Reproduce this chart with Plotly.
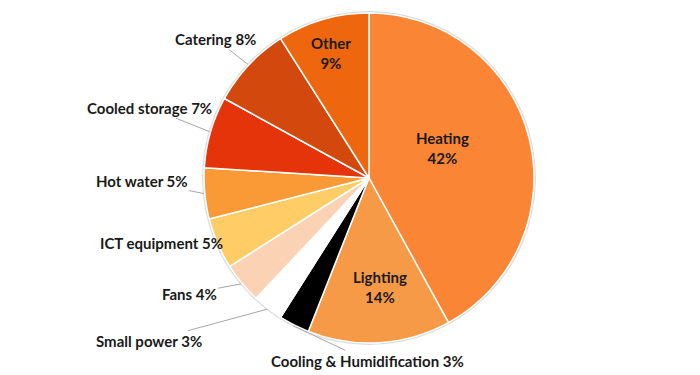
import math
import plotly.graph_objects as go

categories = ["Heating", "Lighting", "Cooling & Humidification", "Small power", "Fans",
              "ICT equipment", "Hot water", "Cooled storage", "Catering", "Other"]
values = [42, 14, 3, 3, 4, 5, 5, 7, 8, 9]
colors = ["#F98535", "#F79A48", "#000000", "#FFFFFF", "#FBD2B4",
          "#FFCC66", "#F99A36", "#E5330A", "#D3480C", "#EE660E"]

W, H = 700, 375
CX, CY, R = 369, 178, 165

inside = {"Heating": (0.5, -6, 9), "Lighting": (0.66, 4, 0), "Other": (0.77, -3, 3)}
# outside: offset of text centre from the slice edge point (px)
outside = {
    "Catering": (-32, -25),
    "Cooled storage": (-60, -24),
    "Hot water": (-62, -13),
    "ICT equipment": (-55, -1),
    "Fans": (-52, 10),
    "Small power": (-118, 32),
    "Cooling & Humidification": (74, 35),
}

fig = go.Figure()
# soft grey rim behind the pie
pad = 2
fig.add_trace(go.Pie(values=[1], marker=dict(colors=["#DCDCDC"], line=dict(width=0)),
                     textinfo="none", hoverinfo="skip", showlegend=False, sort=False,
                     domain=dict(x=[(CX - R - pad) / W, (CX + R + pad) / W],
                                 y=[(H - CY - R - pad) / H, (H - CY + R + pad) / H])))
fig.add_trace(go.Pie(labels=categories, values=values, sort=False, direction="clockwise",
                     rotation=0, marker=dict(colors=colors, line=dict(color="white", width=1.5)),
                     textinfo="none", showlegend=False,
                     domain=dict(x=[(CX - R) / W, (CX + R) / W],
                                 y=[(H - CY - R) / H, (H - CY + R) / H])))

total = sum(values)
font = dict(family="Lato, Open Sans, sans-serif", size=15, color="#1a1a1a")
annotations = []
cum = 0
for cat, v in zip(categories, values):
    mid = (cum + v / 2) / total * 2 * math.pi
    cum += v
    if cat in inside:
        f, xs, ys = inside[cat]
        px = CX + f * R * math.sin(mid)
        py = CY - f * R * math.cos(mid)
        annotations.append(dict(x=px / W, y=1 - py / H, xref="paper", yref="paper",
                                xanchor="center", yanchor="middle",
                                text=f"<b>{cat}<br>{v}%</b>", showarrow=False,
                                xshift=xs, yshift=ys, font=font, align="center"))
    else:
        dx, dy = outside[cat]
        px = CX + (R + 1) * math.sin(mid)
        py = CY - (R + 1) * math.cos(mid)
        annotations.append(dict(x=px / W, y=1 - py / H, xref="paper", yref="paper",
                                text=f"<b>{cat} {v}%</b>", showarrow=True, arrowhead=0,
                                arrowwidth=1, arrowcolor="#A6A6A6", ax=dx, ay=dy,
                                font=font, standoff=0, startstandoff=0))

fig.update_layout(width=W, height=H, margin=dict(l=0, r=0, t=0, b=0),
                  paper_bgcolor="white", plot_bgcolor="white", annotations=annotations)
fig.write_html("out.html", config={"displayModeBar": False},
               post_script="document.body.style.margin='0px';")
